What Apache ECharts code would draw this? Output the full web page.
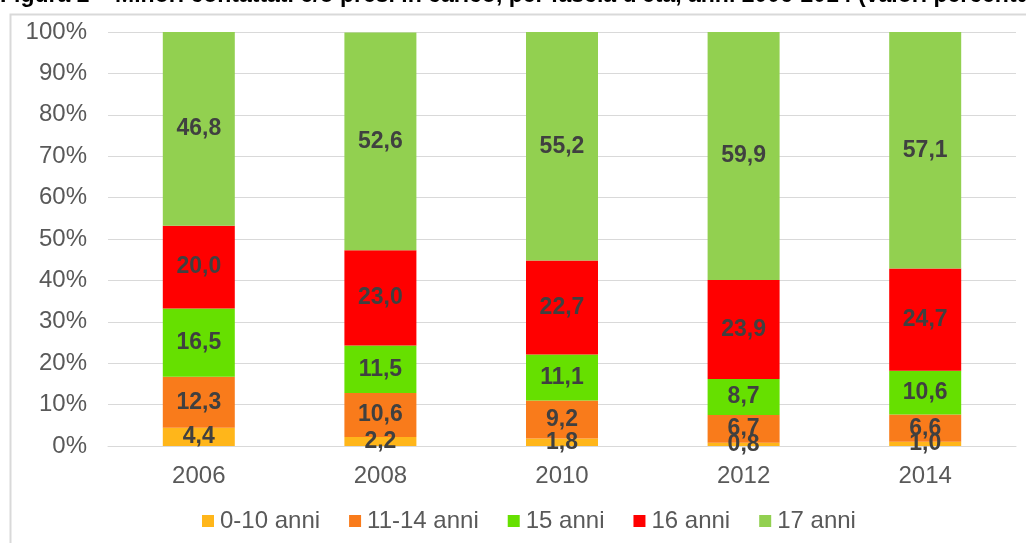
<!DOCTYPE html>
<html>
<head>
<meta charset="utf-8">
<script src="https://cdn.jsdelivr.net/npm/echarts@6/dist/echarts.min.js"></script>
<style>
  html, body { margin: 0; padding: 0; background: #ffffff; }
  #chart { width: 1026px; height: 543px; }
</style>
</head>
<body>
<div id="chart"></div>
<script>
// Minori contattati e/o presi in carico, per fascia d'età (valori percentuali)
const years = ['2006', '2008', '2010', '2012', '2014'];
const age0to10 = [4.4, 2.2, 1.8, 0.8, 1.0];
const age11to14 = [12.3, 10.6, 9.2, 6.7, 6.6];
const age15 = [16.5, 11.5, 11.1, 8.7, 10.6];
const age16 = [20.0, 23.0, 22.7, 23.9, 24.7];
const age17 = [46.8, 52.6, 55.2, 59.9, 57.1];
const yTicks = [0, 10, 20, 30, 40, 50, 60, 70, 80, 90, 100];

const seriesDefs = [
  { name: '0-10 anni', data: age0to10, color: '#FFB61A' },
  { name: '11-14 anni', data: age11to14, color: '#F97B1B' },
  { name: '15 anni', data: age15, color: '#66E000' },
  { name: '16 anni', data: age16, color: '#FF0000' },
  { name: '17 anni', data: age17, color: '#92D050' }
];

const FONT = '"Liberation Sans", Arial, sans-serif';

const chart = echarts.init(document.getElementById('chart'));
chart.setOption({
  animation: false,
  backgroundColor: '#ffffff',
  graphic: [
    {
      type: 'rect',
      shape: { x: 10.5, y: 14.5, width: 1030, height: 540 },
      style: { fill: 'none', stroke: '#d9d9d9', lineWidth: 2 },
      silent: true
    },
    {
      type: 'text',
      left: 0,
      top: -16,
      style: {
        text: "Figura 2 \u2013 Minori contattati e/o presi in carico, per fascia d'età, anni 2006-2014 (valori percentuali)",
        font: 'bold 23px ' + FONT,
        fill: '#000000'
      },
      silent: true
    }
  ],
  grid: { left: 108, right: 10, top: 32, bottom: 97, containLabel: false },
  legend: {
    bottom: 5,
    left: 197,
    itemWidth: 12,
    itemHeight: 12,
    itemGap: 29,
    icon: 'rect',
    textStyle: { fontFamily: FONT, fontSize: 24, color: '#595959', padding: [0, 0, 0, 1] },
    data: seriesDefs.map(s => s.name)
  },
  xAxis: {
    type: 'category',
    data: years,
    axisLine: { show: true, lineStyle: { color: '#d9d9d9' } },
    axisTick: { show: false },
    axisLabel: { fontFamily: FONT, fontSize: 24, color: '#595959', margin: 18 }
  },
  yAxis: {
    type: 'value',
    min: yTicks[0],
    max: yTicks[yTicks.length - 1],
    interval: 10,
    axisLine: { show: false },
    axisTick: { show: false },
    splitLine: { lineStyle: { color: '#d9d9d9', width: 1 } },
    axisLabel: {
      fontFamily: FONT,
      fontSize: 24,
      color: '#595959',
      margin: 21,
      formatter: v => v + '%'
    }
  },
  series: seriesDefs.map(s => ({
    name: s.name,
    type: 'bar',
    stack: 'total',
    barWidth: 72,
    data: s.data,
    itemStyle: { color: s.color },
    label: {
      show: true,
      position: 'inside',
      fontFamily: FONT,
      fontSize: 23,
      fontWeight: 'bold',
      color: '#404040',
      formatter: p => p.value.toFixed(1).replace('.', ',')
    }
  }))
});
</script>
</body>
</html>
